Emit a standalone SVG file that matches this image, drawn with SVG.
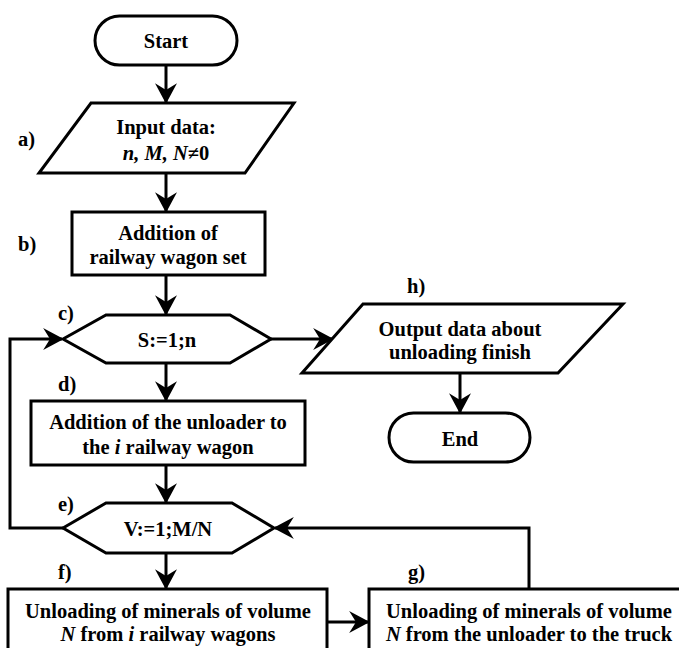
<svg xmlns="http://www.w3.org/2000/svg" width="679" height="648" viewBox="0 0 679 648">
<style>
.s{fill:#fff;stroke:#000;stroke-width:3;stroke-linejoin:miter}
.c{fill:none;stroke:#000;stroke-width:3}
text{font-family:"Liberation Serif","Times New Roman",serif;font-weight:bold;font-size:20.5px;fill:#000}
.m{text-anchor:middle}
</style>
<defs>
<marker id="a" markerUnits="userSpaceOnUse" markerWidth="22" markerHeight="22" viewBox="-17 -10 19 20" refX="0" refY="0" orient="auto">
<path d="M-15,-8 L0,0 L-15,8 L-10,0 z" fill="#000" stroke="#000" stroke-width="1.5" stroke-linejoin="miter"/>
</marker>
</defs>
<g id="connectors">
<line class="c" x1="166" y1="65" x2="166" y2="102" marker-end="url(#a)"/>
<line class="c" x1="166" y1="173" x2="166" y2="211" marker-end="url(#a)"/>
<line class="c" x1="166" y1="275" x2="166" y2="314" marker-end="url(#a)"/>
<line class="c" x1="166" y1="363" x2="166" y2="400" marker-end="url(#a)"/>
<line class="c" x1="166" y1="465" x2="166" y2="502" marker-end="url(#a)"/>
<line class="c" x1="166" y1="553" x2="166" y2="588" marker-end="url(#a)"/>
<polyline class="c" points="63,528 10,528 10,339 62,339" marker-end="url(#a)"/>
<line class="c" x1="271" y1="339" x2="332" y2="339" marker-end="url(#a)"/>
<line class="c" x1="460" y1="373" x2="460" y2="412" marker-end="url(#a)"/>
<line class="c" x1="327" y1="622" x2="368" y2="622" marker-end="url(#a)"/>
<polyline class="c" points="529,589 529,528 275,528" marker-end="url(#a)"/>
</g>
<g id="start">
<rect class="s" x="95" y="16" width="142" height="49" rx="24.5"/>
<text class="m" x="166" y="48">Start</text>
</g>
<g id="a-input">
<polygon class="s" points="91,103 294,103 245,173 39,173"/>
<text class="m" x="166" y="134">Input data:</text>
<text class="m" x="166" y="160"><tspan font-style="italic">n, M, N</tspan>≠0</text>
<text x="18" y="146">a)</text>
</g>
<g id="b-addition">
<rect class="s" x="72" y="212" width="193" height="63"/>
<text class="m" x="168" y="240">Addition of</text>
<text class="m" x="168" y="264">railway wagon set</text>
<text x="18" y="251">b)</text>
</g>
<g id="c-loop">
<polygon class="s" points="63,339 106,315 230,315 271,339 230,363 106,363"/>
<text class="m" x="167" y="347">S:=1;n</text>
<text x="58" y="320">c)</text>
</g>
<g id="d-unloader">
<rect class="s" x="31" y="401" width="274" height="64"/>
<text class="m" x="168" y="429">Addition of the unloader to</text>
<text class="m" x="168" y="454">the <tspan font-style="italic">i</tspan> railway wagon</text>
<text x="58" y="391">d)</text>
</g>
<g id="e-loop">
<polygon class="s" points="63,528 106,503 232,503 274,528 232,553 106,553"/>
<text class="m" x="168" y="536">V:=1;M/N</text>
<text x="58" y="511">e)</text>
</g>
<g id="f-unloading">
<rect class="s" x="8" y="589" width="319" height="80"/>
<text class="m" x="168" y="618">Unloading of minerals of volume</text>
<text class="m" x="168" y="641"><tspan font-style="italic">N</tspan> from <tspan font-style="italic">i</tspan> railway wagons</text>
<text x="58" y="579">f)</text>
</g>
<g id="g-truck">
<rect class="s" x="369" y="589" width="330" height="80"/>
<text class="m" x="529" y="618">Unloading of minerals of volume</text>
<text class="m" x="529" y="641"><tspan font-style="italic">N</tspan> from the unloader to the truck</text>
<text x="408" y="579">g)</text>
</g>
<g id="h-output">
<polygon class="s" points="363,304 623,304 558,373 302,373"/>
<text class="m" x="460" y="336">Output data about</text>
<text class="m" x="460" y="359">unloading finish</text>
<text x="407" y="293">h)</text>
</g>
<g id="end">
<rect class="s" x="389" y="413" width="141" height="49" rx="24.5"/>
<text class="m" x="460" y="446">End</text>
</g>
</svg>
